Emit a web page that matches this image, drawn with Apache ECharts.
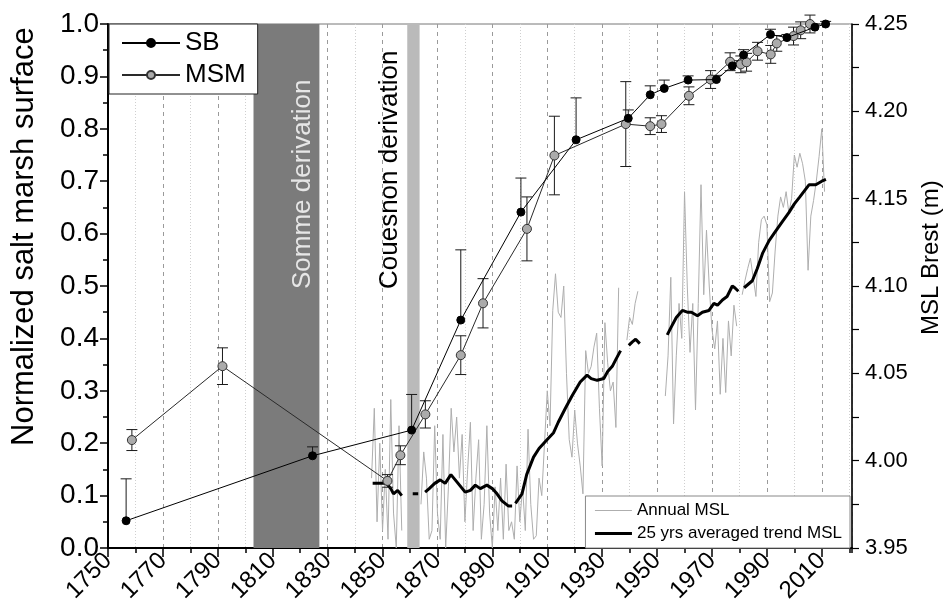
<!DOCTYPE html>
<html><head><meta charset="utf-8">
<script src="https://cdn.jsdelivr.net/npm/echarts@6/dist/echarts.min.js"></script>
<style>html,body{margin:0;padding:0;background:#fff}#c{width:943px;height:606px}</style>
</head><body><div id="c"></div>
<script>
// ---------- data ----------
const sbYears  = [1756.6, 1824.5, 1860.6, 1878.5, 1900.4, 1920.5, 1939.5, 1947.5, 1952.6, 1961.3, 1971.6, 1977.4, 1981.5, 1991.3, 1997.3, 2007.5, 2011.4];
const sbValues = [0.052, 0.176, 0.225, 0.435, 0.641, 0.779, 0.820, 0.865, 0.877, 0.893, 0.894, 0.920, 0.941, 0.980, 0.974, 0.994, 1.000];
const sbErrUp  = [0.080, 0.017, 0.068, 0.134, 0.065, 0.080, 0.016, 0.017, 0.016, 0.008, 0.008, 0.010, 0.010, 0.010, 0.006, 0.006, 0.005];

const msmYears  = [1758.7, 1791.7, 1851.8, 1856.5, 1865.6, 1878.5, 1886.6, 1902.6, 1912.6, 1938.6, 1947.5, 1951.6, 1961.6, 1969.5, 1976.6, 1980.5, 1982.6, 1986.6, 1991.4, 1993.6, 1999.7, 2002.3, 2005.7];
const msmValues = [0.206, 0.347, 0.128, 0.177, 0.255, 0.368, 0.467, 0.609, 0.749, 0.809, 0.805, 0.809, 0.863, 0.894, 0.928, 0.923, 0.927, 0.948, 0.942, 0.963, 0.977, 0.988, 1.000];
const msmErr    = [0.020, 0.035, 0.012, 0.018, 0.026, 0.037, 0.047, 0.061, 0.075, 0.081, 0.016, 0.016, 0.017, 0.017, 0.017, 0.016, 0.017, 0.017, 0.017, 0.015, 0.017, 0.016, 0.017];

const annualYears = [
 1846,1847,1848,1849,1850,1851,1852,1853,1854,1855,1856,1857,1858,1859,1860,1861,1862,1863,
 1864,1865,1866,1867,1868,1869,1870,1871,1872,1873,1874,1875,1876,1877,1878,1879,1880,1881,
 1882,1883,1884,1885,1886,1887,1888,1889,1890,1891,1892,1893,1894,1895,1896,1897,1898,1899,
 1900,1901,1902,1903,1904,1905,1906,1907,1908,1909,1910,1911,1912,1913,1914,1915,1916,1917,
 1918,1919,1920,1921,1922,1923,1924,1925,1926,1927,1928,1929,1930,1931,1932,1933,1934,1935,
 1936,1937,1938,1939,1940,1941,1942,1943,1944,1945,1946,1947,1948,1949,1950,1951,1952,1953,
 1954,1955,1956,1957,1958,1959,1960,1961,1962,1963,1964,1965,1966,1967,1968,1969,1970,1971,
 1972,1973,1974,1975,1976,1977,1978,1979,1980,1981,1982,1983,1984,1985,1986,1987,1988,1989,
 1990,1991,1992,1993,1994,1995,1996,1997,1998,1999,2000,2001,2002,2003,2004,2005,2006,2007,
 2008,2009,2010,2011];
const annualValues = [
 3.990,4.030,3.965,4.010,3.960,3.995,3.955,4.035,3.970,3.950,4.020,3.960,null,null,null,null,null,null,
 3.975,4.005,3.990,3.955,3.960,4.020,3.970,3.955,4.015,3.950,3.985,4.030,4.005,4.025,3.990,4.015,3.965,3.995,
 4.022,3.960,3.990,4.012,3.955,3.975,4.020,3.970,3.950,3.985,3.960,3.990,3.955,3.998,3.960,3.965,3.955,3.997,
 3.965,3.985,3.960,4.018,3.975,3.955,3.957,3.990,3.980,4.010,4.040,4.020,4.086,4.107,4.085,4.082,4.100,4.050,
 4.012,4.002,4.029,4.010,3.997,3.981,4.063,4.050,4.054,4.065,4.073,4.030,3.997,4.079,4.056,4.040,4.045,4.019,
 4.099,null,null,4.069,4.082,4.078,4.090,4.097,null,null,null,null,null,null,null,null,null,4.037,
 4.060,4.105,4.021,4.060,4.090,4.070,4.154,4.100,4.062,4.090,4.029,4.090,4.158,4.095,4.132,4.100,4.075,4.064,
 4.080,4.038,4.070,4.039,4.080,4.060,4.089,4.077,null,4.095,4.103,4.110,4.116,4.105,4.094,4.125,4.138,4.140,
 4.135,4.091,4.096,4.120,4.140,4.151,4.145,4.154,4.142,4.150,4.175,4.168,4.176,4.170,4.160,4.109,4.140,4.149,
 4.160,4.174,4.190,4.154];

const trendYears = [1846.4,1849,1851.5,1853,1854,1855.5,1857,1859,1861,1863,1864,
 1865.5,1867,1869,1871,1872.8,1874.9,1877,1880.1,1882,1883.8,1885.6,1888,1890,1891.7,1893.5,1895.9,1897.2,1897.8,
 1898.4,1900.8,1902.5,1905,1907,1909.9,1912.3,1914,1916.6,1919,1922,1924.5,1926,1928.2,1930.6,1932,1933.7,1935,1936.7,1938,
 1939.7,1941,1942.2,1943.7,1948,
 1953.7,1955,1957,1959.2,1961,1962.5,1964.7,1966.5,1968.9,1970.7,1972,1973.8,1975.5,1977.4,1978.3,1979.6,1980.6,
 1981.7,1983.2,1984.7,1986.5,1988.5,1990.8,1993,1995.7,1998,2000,2002,2005.4,2007.8,2010,2011.5];
const trendValues = [3.987,3.987,3.987,3.984,3.981,3.983,3.980,null,3.981,3.981,null,
 3.982,3.984,3.987,3.989,3.987,3.992,3.988,3.982,3.983,3.986,3.984,3.986,3.984,3.981,3.977,3.974,3.974,null,
 3.9756,3.981,3.992,4.002,4.007,4.012,4.016,4.022,4.030,4.037,4.045,4.049,4.047,4.046,4.047,4.051,4.054,4.058,4.063,null,
 4.066,4.068,4.0695,4.067,null,
 4.072,4.076,4.082,4.086,4.085,4.085,4.083,4.085,4.086,4.090,4.089,4.092,4.094,4.100,4.099,4.097,null,
 4.099,4.101,4.103,4.110,4.119,4.126,4.131,4.137,4.142,4.147,4.151,4.158,4.158,4.160,4.161];

const bandNames = ['Somme derivation', 'Couesnon derivation'];
const bandStart = [1803, 1859];
const bandEnd   = [1827, 1863.5];

// ---------- build ----------
const FONT = 'Liberation Sans, Arial, sans-serif';
const zip = (xs, ys) => xs.map((x, i) => [x, ys[i]]);
const sbData = zip(sbYears, sbValues);
const msmData = zip(msmYears, msmValues);
const sbErrData = sbYears.map((x, i) => [x, sbValues[i], sbValues[i], sbValues[i] + sbErrUp[i], 0]);
const msmErrData = msmYears.map((x, i) => [x, msmValues[i], msmValues[i] - msmErr[i], msmValues[i] + msmErr[i], 1]);
const annualData = zip(annualYears, annualValues);
const trendData = zip(trendYears, trendValues);

function errRender(params, api) {
  const x = api.value(0), lo = api.value(2), hi = api.value(3), both = api.value(4);
  const pHi = api.coord([x, hi]);
  const pLo = api.coord([x, lo]);
  const cap = 5.5;
  const st = { stroke: '#1a1a1a', lineWidth: 1 };
  const ch = [
    { type: 'line', shape: { x1: pHi[0], y1: pHi[1], x2: pLo[0], y2: pLo[1] }, style: st },
    { type: 'line', shape: { x1: pHi[0] - cap, y1: pHi[1], x2: pHi[0] + cap, y2: pHi[1] }, style: st }
  ];
  if (both) ch.push({ type: 'line', shape: { x1: pLo[0] - cap, y1: pLo[1], x2: pLo[0] + cap, y2: pLo[1] }, style: st });
  return { type: 'group', children: ch };
}

const chart = echarts.init(document.getElementById('c'), null, { renderer: 'canvas' });
const option = {
  animation: false,
  backgroundColor: '#fff',
  textStyle: { fontFamily: FONT },
  grid: { left: 108, right: 91, top: 24, bottom: 58, show: true, borderColor: '#777', borderWidth: 1, backgroundColor: 'transparent' },
  xAxis: [
    { type: 'value', min: 1750, max: 2021, interval: 10, position: 'bottom',
      axisLine: { show: true, onZero: false, lineStyle: { color: '#000', width: 2 } },
      axisTick: { show: true, inside: false, length: 5, lineStyle: { color: '#000', width: 1.5 } },
      axisLabel: { show: false },
      splitLine: { show: true, lineStyle: { type: [1, 2], color: ['rgba(0,0,0,0)', '#cfcfcf'], width: 1 } } },
    { type: 'value', min: 1750, max: 2021, interval: 20, position: 'bottom',
      axisLine: { show: false, onZero: false },
      axisTick: { show: true, inside: false, length: 9, lineStyle: { color: '#000', width: 1.5 } },
      axisLabel: { show: true, rotate: 45, fontSize: 24, color: '#000', fontFamily: FONT, margin: 9, showMaxLabel: false, formatter: v => String(v) },
      splitLine: { show: true, lineStyle: { type: [4, 4], color: '#9a9a9a', width: 1 } } }
  ],
  yAxis: [
    { type: 'value', min: 0, max: 1, interval: 0.1, position: 'left',
      axisLine: { show: true, onZero: false, lineStyle: { color: '#000', width: 2 } },
      axisTick: { show: true, inside: false, length: 8, lineStyle: { color: '#000', width: 1.5 } },
      minorTick: { show: true, splitNumber: 2, length: 5, lineStyle: { color: '#000', width: 1.5 } },
      axisLabel: { fontSize: 28, color: '#000', fontFamily: FONT, margin: 9, formatter: v => v.toFixed(1) },
      splitLine: { show: false } },
    { type: 'value', min: 3.95, max: 4.25, interval: 0.05, position: 'right',
      axisLine: { show: true, onZero: false, lineStyle: { color: '#000', width: 1.5 } },
      axisTick: { show: true, inside: false, length: 7, lineStyle: { color: '#000', width: 1.2 } },
      minorTick: { show: true, splitNumber: 2, length: 7, lineStyle: { color: '#000', width: 1.2 } },
      axisLabel: { fontSize: 22, color: '#000', fontFamily: FONT, margin: 13, formatter: v => v.toFixed(2) },
      splitLine: { show: false } }
  ],
  legend: [
    { data: ['SB', 'MSM'], orient: 'vertical', left: 109, top: 24, z: 20,
      backgroundColor: '#fff', borderColor: '#222', borderWidth: 1, borderRadius: 0,
      padding: [4, 12, 4, 12], itemGap: 2, itemWidth: 58, itemHeight: 10,
      textStyle: { fontSize: 26, color: '#000', fontFamily: FONT, lineHeight: 30 }, selectedMode: false },
    { data: [ { name: 'Annual MSL', itemStyle: { opacity: 0 }, lineStyle: { width: 1 } },
              { name: '25 yrs averaged trend MSL', itemStyle: { opacity: 0 }, lineStyle: { width: 3 } } ],
      orient: 'vertical', right: 93, bottom: 58, z: 20,
      backgroundColor: '#fff', borderColor: '#888', borderWidth: 1, borderRadius: 0,
      padding: [4, 8, 4, 8], itemGap: 2, itemWidth: 37, itemHeight: 10,
      textStyle: { fontSize: 17, color: '#000', fontFamily: FONT, lineHeight: 21 }, selectedMode: false }
  ],
  series: [
    { name: 'Annual MSL', type: 'line', xAxisIndex: 0, yAxisIndex: 1, data: annualData, z: 2,
      showSymbol: false, symbol: 'none', connectNulls: false,
      lineStyle: { color: '#aeaeae', width: 1 }, itemStyle: { color: '#aeaeae' },
      markArea: { silent: true, z: 1,
        data: bandNames.map((n, i) => [
          { xAxis: bandStart[i], itemStyle: { color: i === 0 ? '#7b7b7b' : '#bababa', opacity: 1 } },
          { xAxis: bandEnd[i] } ]) } },
    { name: '25 yrs averaged trend MSL', type: 'line', xAxisIndex: 0, yAxisIndex: 1, data: trendData, z: 3,
      showSymbol: false, symbol: 'none', connectNulls: false,
      lineStyle: { color: '#000', width: 3 }, itemStyle: { color: '#000' } },
    { name: 'SBerr', type: 'custom', xAxisIndex: 0, yAxisIndex: 0, data: sbErrData, z: 4, clip: false,
      renderItem: errRender, encode: { x: 0, y: [1, 2, 3] }, silent: true },
    { name: 'MSMerr', type: 'custom', xAxisIndex: 0, yAxisIndex: 0, data: msmErrData, z: 4, clip: false,
      renderItem: errRender, encode: { x: 0, y: [1, 2, 3] }, silent: true },
    { name: 'MSM', type: 'line', xAxisIndex: 0, yAxisIndex: 0, data: msmData, z: 5, clip: false,
      symbol: 'circle', symbolSize: 9, showAllSymbol: true,
      lineStyle: { color: '#2a2a2a', width: 1 },
      itemStyle: { color: '#ababab', borderColor: '#333', borderWidth: 1 } },
    { name: 'SB', type: 'line', xAxisIndex: 0, yAxisIndex: 0, data: sbData, z: 6, clip: false,
      symbol: 'circle', symbolSize: 8, showAllSymbol: true,
      lineStyle: { color: '#000', width: 1 },
      itemStyle: { color: '#000', borderColor: '#000', borderWidth: 1 } }
  ]
};
chart.setOption(option);

// text labels positioned through the axis scale
const sEnd = chart.convertToPixel({ xAxisIndex: 0 }, bandEnd[0]);
const cStart = chart.convertToPixel({ xAxisIndex: 0 }, bandStart[1]);
chart.setOption({
  graphic: [
    { type: 'text', x: sEnd - 17, y: 289, rotation: Math.PI / 2, z: 30,
      style: { text: bandNames[0], fontSize: 26, fontFamily: FONT, fill: '#e6e6e6', align: 'left', verticalAlign: 'middle' } },
    { type: 'text', x: cStart - 17, y: 289, rotation: Math.PI / 2, z: 30,
      style: { text: bandNames[1], fontSize: 26, fontFamily: FONT, fill: '#000', align: 'left', verticalAlign: 'middle' } },
    { type: 'text', x: 24, y: 446, rotation: Math.PI / 2, z: 30,
      style: { text: 'Normalized salt marsh surface', fontSize: 31, fontFamily: FONT, fill: '#000', align: 'left', verticalAlign: 'middle' } },
    { type: 'text', x: 931, y: 335, rotation: Math.PI / 2, z: 30,
      style: { text: 'MSL Brest (m)', fontSize: 24, fontFamily: FONT, fill: '#000', align: 'left', verticalAlign: 'middle' } }
  ]
});
</script>
</body></html>
